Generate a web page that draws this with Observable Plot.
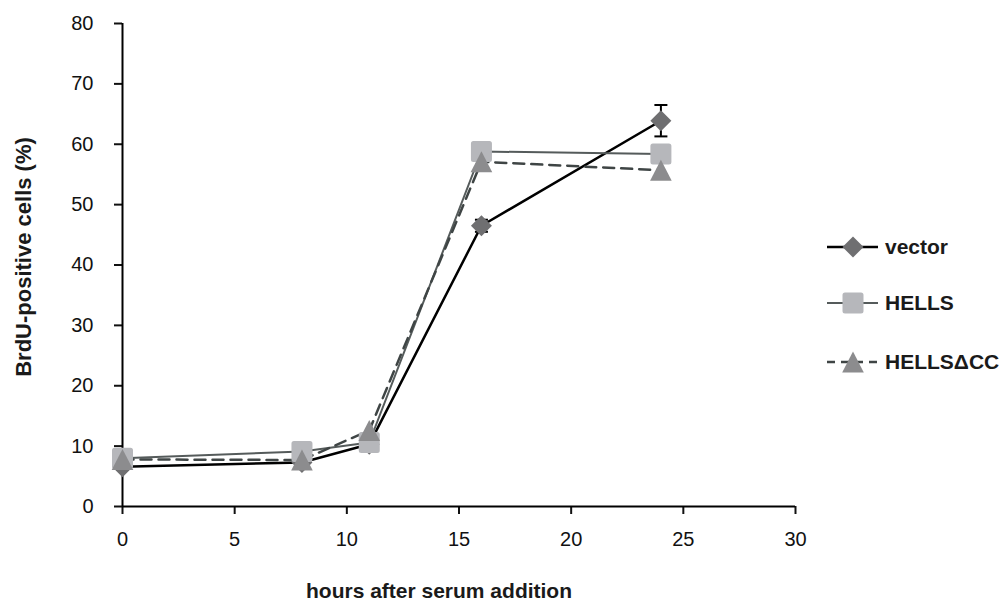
<!DOCTYPE html>
<html><head><meta charset="utf-8">
<script src="https://cdn.jsdelivr.net/npm/d3@7"></script>
<script src="https://cdn.jsdelivr.net/npm/@observablehq/plot@0.6"></script>
<style>
html,body{margin:0;padding:0;background:#fff;overflow:hidden}
#wrap{position:relative;width:1002px;height:604px}
#legend{position:absolute;left:0;top:0;width:1002px;height:604px;pointer-events:none;font-family:"Liberation Sans",Arial,sans-serif;font-weight:bold;font-size:21px;color:#1a1a1a}
.row{position:absolute;left:826px;height:26px;display:flex;align-items:center;white-space:nowrap}
.row svg{margin-right:6px;display:block}
</style></head><body><div id="wrap"></div>
<script>
// ---- data ----
const hours = [0, 8, 11, 16, 24];
const seriesNames = ["vector", "HELLS", "HELLSΔCC"];
const vectorValues = [6.6, 7.3, 10.3, 46.5, 63.9];
const vectorErrors = [0.5, 0.3, 1.2, 1.0, 2.6];
const hellsValues = [8.0, 9.1, 10.6, 58.8, 58.4];
const hellsDccValues = [7.8, 7.7, 12.6, 57.1, 55.7];
const xTicks = [0, 5, 10, 15, 20, 25, 30];
const yTicks = [0, 10, 20, 30, 40, 50, 60, 70, 80];
const xTitle = "hours after serum addition";
const yTitle = "BrdU-positive cells (%)";

// ---- styles ----
const FONT = '"Liberation Sans", Arial, Helvetica, sans-serif';
const lineColors = ["#000000", "#555b5b", "#3f4545"];
const markColors = ["#6f6f71", "#b6b7bb", "#8c8c8e"];
const lineWidths = [2.5, 2, 2.5];
const dashes = [null, null, "11,7"];

// ---- custom symbols ----
const rad = size => Math.sqrt(size / Math.PI);
const diamondSym = {draw(c, s){ const r = rad(s); c.moveTo(0,-r); c.lineTo(r,0); c.lineTo(0,r); c.lineTo(-r,0); c.closePath(); }};
const squareSym = {draw(c, s){ const r = rad(s), k = 2.5;
  c.moveTo(-r+k,-r); c.lineTo(r-k,-r); c.arcTo(r,-r,r,-r+k,k);
  c.lineTo(r,r-k); c.arcTo(r,r,r-k,r,k);
  c.lineTo(-r+k,r); c.arcTo(-r,r,-r,r-k,k);
  c.lineTo(-r,-r+k); c.arcTo(-r,-r,-r+k,-r,k); c.closePath(); }};
const triSym = {draw(c, s){ const r = rad(s); c.moveTo(0,-r); c.lineTo(r*1.03,r); c.lineTo(-r*1.03,r); c.closePath(); }};
const capSym = {draw(c, s){ const r = rad(s); c.moveTo(-r,0); c.lineTo(r,0); }};
const symbols = [diamondSym, squareSym, triSym];

// ---- tables ----
const valueLists = [vectorValues, hellsValues, hellsDccValues];
const tables = valueLists.map((vals, i) => hours.map((h, j) => ({hours: h, value: vals[j], series: seriesNames[i]})));
const errTable = hours.map((h, j) => ({hours: h, lo: vectorValues[j] - vectorErrors[j], hi: vectorValues[j] + vectorErrors[j]}));

const marks = [
  Plot.axisX({ticks: xTicks, tickSize: 8, tickPadding: 17, tickFormat: d => String(d), label: null, strokeWidth: 2, fontSize: 20}),
  Plot.axisY({ticks: yTicks, tickSize: 8, tickPadding: 21, tickFormat: d => String(d), label: null, strokeWidth: 2, fontSize: 20}),
  Plot.ruleX([0], {stroke: "#000", strokeWidth: 2}),
  Plot.ruleY([0], {stroke: "#000", strokeWidth: 2}),
];
tables.forEach((t, i) => {
  marks.push(Plot.line(t, {x: "hours", y: "value", stroke: lineColors[i], strokeWidth: lineWidths[i], strokeDasharray: dashes[i]}));
});
marks.push(Plot.ruleX(errTable, {x: "hours", y1: "lo", y2: "hi", stroke: "#000", strokeWidth: 2}));
marks.push(Plot.dot(errTable, {x: "hours", y: "lo", symbol: capSym, r: 6.5, stroke: "#000", strokeWidth: 2, fill: "none"}));
marks.push(Plot.dot(errTable, {x: "hours", y: "hi", symbol: capSym, r: 6.5, stroke: "#000", strokeWidth: 2, fill: "none"}));
tables.forEach((t, i) => {
  marks.push(Plot.dot(t, {x: "hours", y: "value", symbol: symbols[i], r: 10.5, fill: markColors[i], stroke: "none"}));
});
marks.push(Plot.text([xTitle], {frameAnchor: "bottom", lineAnchor: "bottom", dx: -20, dy: 91, fontSize: 21, fontWeight: "bold", fill: "#1a1a1a", textAnchor: "middle"}));
marks.push(Plot.text([yTitle], {frameAnchor: "left", lineAnchor: "bottom", rotate: -90, dx: -92, dy: -8, fontSize: 22, fontWeight: "bold", fill: "#1a1a1a", textAnchor: "middle"}));

const chart = Plot.plot({
  width: 1002, height: 604,
  marginLeft: 122, marginRight: 207, marginTop: 23, marginBottom: 98,
  x: {domain: [0, 30]},
  y: {domain: [0, 80]},
  style: {fontFamily: FONT, fontSize: "20px", color: "#111", background: "#fff", overflow: "visible"},
  marks
});
const wrap = document.getElementById("wrap");
wrap.appendChild(chart);

// ---- legend ----
const legend = document.createElement("div");
legend.id = "legend";
const rowCenters = [246.7, 303.3, 361.7];
seriesNames.forEach((name, i) => {
  const row = document.createElement("div");
  row.className = "row";
  row.style.top = (rowCenters[i] - 13) + "px";
  const svg = d3.create("svg").attr("width", 53).attr("height", 26);
  svg.append("line").attr("x1", 1).attr("x2", 52).attr("y1", 13).attr("y2", 13)
    .attr("stroke", lineColors[i]).attr("stroke-width", lineWidths[i])
    .attr("stroke-dasharray", i === 2 ? "8,6" : null);
  svg.append("path").attr("transform", "translate(27,13)")
    .attr("d", d3.symbol(symbols[i], Math.PI * 10.5 * 10.5)())
    .attr("fill", markColors[i]);
  row.appendChild(svg.node());
  const span = document.createElement("span");
  span.textContent = name;
  row.appendChild(span);
  legend.appendChild(row);
});
wrap.appendChild(legend);
</script></body></html>
